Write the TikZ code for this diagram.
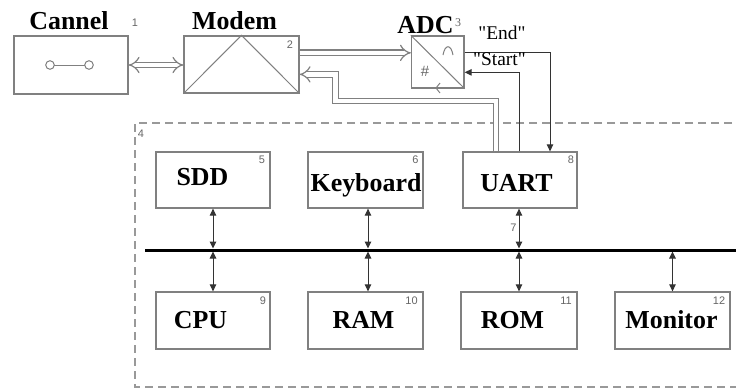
\documentclass[tikz,border=0pt]{standalone}
\usepackage{fontspec}
\setmainfont{Liberation Serif}
\newfontfamily\numfont{Liberation Sans}
\newfontfamily\sigfont[Ligatures=TeXOff]{Liberation Serif}
\usetikzlibrary{arrows.meta,calc}
\definecolor{boxgray}{HTML}{808080}
\definecolor{arrgray}{HTML}{333333}
\definecolor{numgray}{HTML}{666666}
\definecolor{dashgray}{HTML}{999999}
\tikzset{
 blk/.style={draw=boxgray, line width=1.3bp, rectangle, inner sep=0pt},
 ttl/.style={font=\fontsize{26}{28}\selectfont\bfseries, anchor=base, inner sep=0pt},
 siglbl/.style={font=\sigfont\fontsize{19.5}{22}\selectfont, anchor=base, inner sep=0pt},
 numlbl/.style={font=\numfont\fontsize{11}{12}\selectfont, text=numgray, inner sep=0pt},
 dbl/.style={draw=boxgray, double=white, double distance=4.5bp, line width=1.2bp},
 biarr/.style={draw=arrgray, line width=1bp, {Triangle[length=7bp,width=6.5bp]}-{Triangle[length=7bp,width=6.5bp]}},
 sarr/.style={draw=arrgray, line width=1bp, -{Triangle[length=7bp,width=6.5bp]}},
 busline/.style={line width=3bp, black},
 dframe/.style={draw=dashgray, line width=1.5bp, dash pattern=on 8bp off 5bp},
}
\begin{document}
\begin{tikzpicture}[x=1bp,y=-1bp]
\clip (0,0) rectangle (736,390);
\fill[white] (0,0) rectangle (736,390);

% dashed frame (4)
\draw[dframe] (745,123) -- (135,123) -- (135,387) -- (745,387);

% top blocks
\node[blk, minimum width=114bp, minimum height=58bp] (cannel) at (71,65) {};
\node[blk, minimum width=115bp, minimum height=57bp] (modem) at (241.5,64.5) {};
\node[blk, minimum width=52.5bp, minimum height=52bp] (adc) at (437.75,62) {};

\node[ttl] (tcan) at (69,29) {Cannel};
\node[ttl] (tmod) at (234.5,29) {Modem};
\node[ttl] (tadc) at (425.5,33) {ADC};

\node[numlbl] (n1) at (135,23) {1};
\node[numlbl] (n2) at (290,45) {2};
\node[font=\fontsize{12}{12}\selectfont, text=numgray, inner sep=0pt] (n3) at (458,23) {3};

% channel symbol
\draw[boxgray, line width=1bp] (50,65) circle (4.3bp);
\draw[boxgray, line width=1bp] (89,65) circle (4.3bp);
\draw[boxgray, line width=1bp] (54.3,65) -- (84.7,65);

% modem triangle
\draw[boxgray, line width=1bp] (modem.south west) -- (modem.north) -- (modem.south east);

% ADC symbol
\draw[boxgray, line width=1bp] (adc.north west) -- (adc.south east);
\draw[boxgray, line width=1bp] (443,55) .. controls (445,44) and (451,44) .. (453,55);
\node[inner sep=0pt, font=\numfont\fontsize{15}{15}\selectfont, text=numgray] (hash) at (425,71.5) {\#};
\draw[boxgray, line width=1bp] (440,83) -- (436,88) -- (440,93);

% lower blocks
\node[blk, minimum width=114bp, minimum height=56bp] (sdd) at (213,180) {};
\node[blk, minimum width=115bp, minimum height=56bp] (kbd) at (365.5,180) {};
\node[blk, minimum width=114bp, minimum height=56bp] (uart) at (520,180) {};
\node[blk, minimum width=114bp, minimum height=57bp] (cpu) at (213,320.5) {};
\node[blk, minimum width=115bp, minimum height=57bp] (ram) at (365.5,320.5) {};
\node[blk, minimum width=116bp, minimum height=57bp] (rom) at (519,320.5) {};
\node[blk, minimum width=115bp, minimum height=57bp] (mon) at (672.5,320.5) {};

\node[ttl] (tsdd) at (202.5,185) {SDD};
\node[ttl] (tkbd) at (366,191) {Keyboard};
\node[ttl] (tuart) at (516.5,191) {UART};
\node[ttl] (tcpu) at (200.5,328) {CPU};
\node[ttl] (tram) at (363.5,328) {RAM};
\node[ttl] (trom) at (512.5,328) {ROM};
\node[ttl] (tmon) at (671.5,328) {Monitor};

\node[numlbl] (n4) at (141,134) {4};
\node[numlbl] (n5) at (262,160) {5};
\node[numlbl] (n6) at (415.5,160) {6};
\node[numlbl] (n7) at (513.5,228) {7};
\node[numlbl] (n8) at (571,160) {8};
\node[numlbl] (n9) at (263,301) {9};
\node[numlbl] (n10) at (411.5,301) {10};
\node[numlbl] (n11) at (566,301) {11};
\node[numlbl] (n12) at (719,301) {12};

% bus
\coordinate (busL) at (145,250);
\coordinate (busR) at (745,250);

\draw[biarr, shorten >=1.5bp] (sdd.south) -- (sdd.south |- busL);
\draw[biarr, shorten >=1.5bp] ([xshift=2.5bp]kbd.south) -- ([xshift=2.5bp]kbd.south |- busL);
\draw[biarr, shorten >=1.5bp] ([xshift=-1bp]uart.south) -- ([xshift=-1bp]uart.south |- busL);

\draw[biarr, shorten <=1.5bp] (cpu.north |- busL) -- (cpu.north);
\draw[biarr, shorten <=1.5bp] ([xshift=2.5bp]ram.north |- busL) -- ([xshift=2.5bp]ram.north);
\draw[biarr, shorten <=1.5bp] (rom.north |- busL) -- (rom.north);
\draw[biarr, shorten <=1.5bp] (mon.north |- busL) -- (mon.north);

\draw[busline] (busL) -- (busR);

% double-line links
\draw[dbl, {Implies}-{Implies}] (cannel.east) -- (cannel.east -| modem.west);
\draw[dbl, -{Implies}] ([yshift=-17.5bp]modem.north east) -- ([yshift=-17.5bp]modem.north east -| adc.west);
\draw[dbl, -{Implies}] ([xshift=-24bp]uart.north) |- (335.5,101) |- ([yshift=-39bp]modem.north east);

% control signals
\draw[sarr] ([yshift=-17bp]adc.north east) -| ([xshift=30bp]uart.north);
\draw[sarr] ([xshift=-1bp]uart.north) |- ([yshift=-37bp]adc.north east);

\node[siglbl] (tend) at (502,39) {"End"};
\node[siglbl] (tstart) at (499.5,65) {"Start"};
\end{tikzpicture}
\end{document}
